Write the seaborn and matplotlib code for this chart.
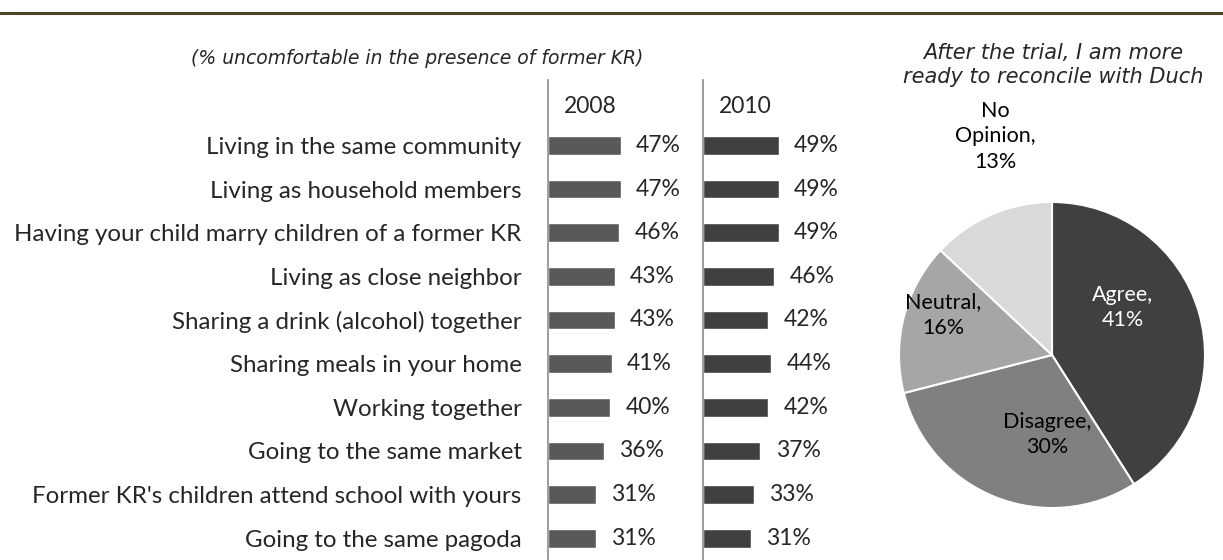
import numpy as np
import matplotlib
matplotlib.use('Agg')
import matplotlib.pyplot as plt
from matplotlib.lines import Line2D
import seaborn as sns

# datos
categorias = ['Living in the same community',
              'Living as household members',
              'Having your child marry children of a former KR',
              'Living as close neighbor',
              'Sharing a drink (alcohol) together',
              'Sharing meals in your home',
              'Working together',
              'Going to the same market',
              "Former KR's children attend school with yours",
              'Going to the same pagoda']
valores_2008 = [47, 47, 46, 43, 43, 41, 40, 36, 31, 31]
valores_2010 = [49, 49, 49, 46, 42, 44, 42, 37, 33, 31]
anios = ['2008', '2010']

pie_nombres = ['Agree', 'Disagree', 'Neutral', 'No\nOpinion']
pie_valores = [41, 30, 16, 13]

sns.set_style('white')
plt.rcParams['font.family'] = ['Lato', 'DejaVu Sans']

W, H = 1223, 560
fig = plt.figure(figsize=(W / 100, H / 100), dpi=100)

FS_CAT = 17.4
FS_VAL = 16.5
gris_eje = '#8c8c8c'

# linea superior
fig.add_artist(Line2D([0, 1], [1 - 13 / H] * 2, color='#4d4429', lw=2.2))

# subtitulo barras
fig.text(417 / W, 1 - 59 / H, '(% uncomfortable in the presence of former KR)',
         ha='center', va='center', style='italic', family='DejaVu Sans',
         fontsize=13.5, color='#262626')

# barras 2008 y 2010
ax1 = fig.add_axes([548 / W, 0, 155 / W, 480 / H])
ax2 = fig.add_axes([703 / W, 0, 155 / W, 480 / H])

for ax, vals, col, anio in [(ax1, valores_2008, '#595959', anios[0]),
                            (ax2, valores_2010, '#404040', anios[1])]:
    sns.barplot(x=vals, y=categorias, ax=ax, color=col, saturation=1,
                width=0.43, orient='h')
    ax.set_xlim(0, 100)
    ax.set_ylim(9.5, -1.5)
    ax.set_xticks([])
    ax.set_xlabel('')
    ax.set_ylabel('')
    for s in ['top', 'right', 'bottom']:
        ax.spines[s].set_visible(False)
    ax.spines['left'].set_color(gris_eje)
    ax.spines['left'].set_linewidth(1.2)
    ax.bar_label(ax.containers[0], labels=[f'{v}%' for v in vals],
                 padding=11, fontsize=FS_VAL)
    ax.text(10, -0.9, anio, ha='left', va='center', fontsize=FS_VAL)
    ax.patch.set_alpha(0)

ax1.set_yticks(range(len(categorias)))
ax1.set_yticklabels(categorias, fontsize=FS_CAT)
ax1.tick_params(axis='y', which='major', length=0, pad=19)
ax1.set_yticks(np.arange(-1.5, 10, 1), minor=True)
ax1.tick_params(axis='y', which='minor', length=6, width=1.2, color=gris_eje,
                direction='out')
ax2.set_yticks([])

# pastel
fig.text(1053 / W, 1 - 65 / H, 'After the trial, I am more\nready to reconcile with Duch',
         ha='center', va='center', style='italic', family='DejaVu Sans',
         fontsize=15, color='#262626', linespacing=1.2)

cx, cy, r = 1052, 355, 153
ax3 = fig.add_axes([(cx - r) / W, (H - cy - r) / H, 2 * r / W, 2 * r / H])
ax3.pie(pie_valores, colors=['#404040', '#808080', '#a6a6a6', '#d9d9d9'],
        startangle=90, counterclock=False,
        wedgeprops=dict(edgecolor='white', linewidth=1.5))
ax3.set_xlim(-1, 1)
ax3.set_ylim(-1, 1)

pos_etiquetas = [(0.46, 0.31), (-0.03, -0.52), (-0.71, 0.26), (-0.37, 1.43)]
for nombre, v, (x, y), c in zip(pie_nombres, pie_valores, pos_etiquetas,
                                ['white', 'black', 'black', 'black']):
    ax3.text(x, y, f'{nombre},\n{v}%', ha='center', va='center',
             fontsize=15.5, color=c, linespacing=1.35)

fig.savefig('out.png', dpi=100)
